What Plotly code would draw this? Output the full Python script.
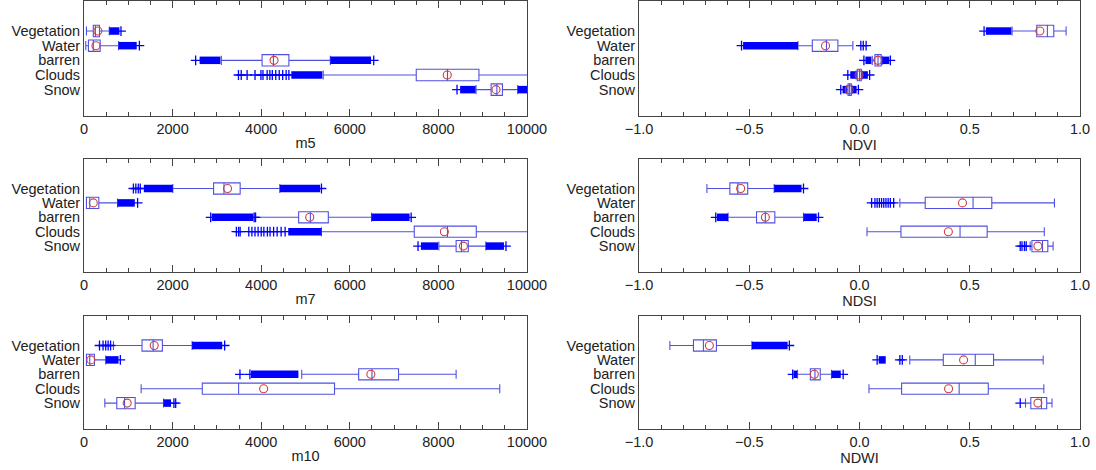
import plotly.graph_objects as go

CATEGORIES = ["Vegetation", "Water", "barren", "Clouds", "Snow"]
CAT_POS = [0, 1, 2, 3, 4]

# ---------------- m5 ----------------
M5_LO = [55, 40, 3100, 5400, 8850]
M5_Q1 = [210, 100, 4020, 7500, 9190]
M5_MED = [257, 210, 4275, 8205, 9320]
M5_Q3 = [350, 365, 4625, 8915, 9445]
M5_HI = [570, 780, 5560, 10600, 9790]
M5_MEAN = [312, 270, 4290, 8200, 9300]
M5_RUN_CAT = [0, 1, 2, 2, 3, 4, 4]
M5_RUN_START = [570, 780, 2610, 5560, 4680, 8490, 9790]
M5_RUN_END = [800, 1190, 3080, 6480, 5380, 8840, 10300]
M5_PT_CAT = [0, 1, 2, 2] + [3] * 14 + [4]
M5_PT_VAL = [835, 1250, 2520, 6540,
             3487, 3549, 3682, 3861, 3994, 4040, 4134, 4196, 4251, 4329, 4407, 4485, 4563, 4625,
             8420]

# ---------------- NDVI ----------------
NDVI_LO = [0.692, -0.279, 0.058, -0.015, -0.058]
NDVI_Q1 = [0.804, -0.214, 0.070, -0.010, -0.052]
NDVI_MED = [0.852, -0.150, 0.084, 0.000, -0.045]
NDVI_Q3 = [0.881, -0.098, 0.098, 0.008, -0.037]
NDVI_HI = [0.937, -0.030, 0.103, 0.012, -0.034]
NDVI_MEAN = [0.818, -0.154, 0.083, -0.002, -0.047]
NDVI_RUN_CAT = [0, 1, 2, 2, 3, 3, 4, 4]
NDVI_RUN_START = [0.573, -0.528, 0.027, 0.103, -0.042, 0.012, -0.077, -0.034]
NDVI_RUN_END = [0.689, -0.279, 0.054, 0.135, -0.015, 0.038, -0.058, -0.013]
NDVI_PT_CAT = [0, 1, 1, 1, 1, 2, 2, 3, 3, 4, 4]
NDVI_PT_VAL = [0.565, -0.535, 0.006, 0.017, 0.030, 0.020, 0.140, -0.053, 0.046, -0.085, -0.005]

# ---------------- m7 ----------------
M7_LO = [2005, 55, 3875, 5360, 8010]
M7_Q1 = [2925, 55, 4845, 7455, 8400]
M7_MED = [3160, 130, 5110, 8205, 8520]
M7_Q3 = [3525, 335, 5515, 8855, 8675]
M7_HI = [4420, 757, 6490, 10600, 9070]
M7_MEAN = [3240, 210, 5095, 8135, 8565]
M7_RUN_CAT = [0, 0, 1, 2, 2, 3, 4, 4]
M7_RUN_START = [1350, 4420, 757, 2885, 6490, 4610, 7605, 9070]
M7_RUN_END = [2005, 5330, 1147, 3820, 7350, 5360, 7995, 9480]
M7_PT_CAT = [0, 0, 0, 0, 0, 1, 2, 2, 2, 2] + [3] * 15 + [4, 4]
M7_PT_VAL = [1115, 1170, 1225, 1270, 5360, 1210, 2860, 3840, 3870, 7385,
             3440, 3490, 3525, 3720, 3790, 3860, 3930, 4000, 4060, 4140, 4200, 4280, 4360, 4450, 4540,
             7540, 9525]

# ---------------- NDSI ----------------
NDSI_LO = [-0.692, 0.183, -0.596, 0.034, 0.774]
NDSI_Q1 = [-0.588, 0.298, -0.467, 0.188, 0.782]
NDSI_MED = [-0.552, 0.515, -0.427, 0.456, 0.830]
NDSI_Q3 = [-0.507, 0.600, -0.384, 0.579, 0.854]
NDSI_HI = [-0.387, 0.884, -0.254, 0.838, 0.878]
NDSI_MEAN = [-0.539, 0.467, -0.427, 0.403, 0.809]
NDSI_RUN_CAT = [0, 2, 2]
NDSI_RUN_START = [-0.387, -0.647, -0.254]
NDSI_RUN_END = [-0.263, -0.596, -0.194]
NDSI_PT_CAT = [0] + [1] * 10 + [2, 2] + [4] * 4
NDSI_PT_VAL = [-0.254,
               0.055, 0.070, 0.080, 0.090, 0.100, 0.110, 0.120, 0.130, 0.140, 0.155,
               -0.652, -0.186,
               0.729, 0.737, 0.748, 0.756]

# ---------------- m10 ----------------
M10_LO = [665, 55, 4915, 1290, 470]
M10_Q1 = [1310, 55, 6200, 2670, 740]
M10_MED = [1560, 130, 6500, 3490, 915]
M10_Q3 = [1770, 235, 7100, 5655, 1155]
M10_HI = [2440, 490, 8400, 9385, 1795]
M10_MEAN = [1585, 155, 6475, 4055, 975]
M10_RUN_CAT = [0, 1, 2, 4]
M10_RUN_START = [2440, 490, 3770, 1795]
M10_RUN_END = [3120, 780, 4840, 1965]
M10_PT_CAT = [0, 0, 0, 0, 0, 0, 1, 2, 2, 4, 4]
M10_PT_VAL = [350, 430, 490, 545, 600, 3175, 820, 3520, 3745, 2030, 2070]

# ---------------- NDWI ----------------
NDWI_LO = [-0.860, 0.228, -0.281, 0.043, 0.753]
NDWI_Q1 = [-0.753, 0.380, -0.223, 0.191, 0.777]
NDWI_MED = [-0.708, 0.525, -0.202, 0.452, 0.825]
NDWI_Q3 = [-0.649, 0.608, -0.178, 0.584, 0.849]
NDWI_HI = [-0.488, 0.833, -0.127, 0.836, 0.873]
NDWI_MEAN = [-0.681, 0.472, -0.205, 0.404, 0.809]
NDWI_RUN_CAT = [0, 1, 2, 2]
NDWI_RUN_START = [-0.488, 0.087, -0.299, -0.127]
NDWI_RUN_END = [-0.326, 0.119, -0.283, -0.085]
NDWI_PT_CAT = [0, 1, 1, 1, 2, 2, 4]
NDWI_PT_VAL = [-0.318, 0.080, 0.183, 0.194, -0.303, -0.074, 0.729]

PANELS = [
    ("m5", 0, 0, M5_LO, M5_Q1, M5_MED, M5_Q3, M5_HI, M5_MEAN,
     M5_RUN_CAT, M5_RUN_START, M5_RUN_END, M5_PT_CAT, M5_PT_VAL),
    ("NDVI", 0, 1, NDVI_LO, NDVI_Q1, NDVI_MED, NDVI_Q3, NDVI_HI, NDVI_MEAN,
     NDVI_RUN_CAT, NDVI_RUN_START, NDVI_RUN_END, NDVI_PT_CAT, NDVI_PT_VAL),
    ("m7", 1, 0, M7_LO, M7_Q1, M7_MED, M7_Q3, M7_HI, M7_MEAN,
     M7_RUN_CAT, M7_RUN_START, M7_RUN_END, M7_PT_CAT, M7_PT_VAL),
    ("NDSI", 1, 1, NDSI_LO, NDSI_Q1, NDSI_MED, NDSI_Q3, NDSI_HI, NDSI_MEAN,
     NDSI_RUN_CAT, NDSI_RUN_START, NDSI_RUN_END, NDSI_PT_CAT, NDSI_PT_VAL),
    ("m10", 2, 0, M10_LO, M10_Q1, M10_MED, M10_Q3, M10_HI, M10_MEAN,
     M10_RUN_CAT, M10_RUN_START, M10_RUN_END, M10_PT_CAT, M10_PT_VAL),
    ("NDWI", 2, 1, NDWI_LO, NDWI_Q1, NDWI_MED, NDWI_Q3, NDWI_HI, NDWI_MEAN,
     NDWI_RUN_CAT, NDWI_RUN_START, NDWI_RUN_END, NDWI_PT_CAT, NDWI_PT_VAL),
]

W, H = 1096, 470
COL_PX = [(84, 527), (639, 1080)]
ROW_PX = [(1, 116), (159, 272), (316, 429)]
BOX_BLUE = "#5050e0"
OUT_BLUE = "#0000ff"
MEAN_RED = "#cc4040"
FRAME = "#444444"
FONT = "Liberation Sans, Arial, Helvetica, sans-serif"

fig = go.Figure()
layout = {}
for i, (name, r, c, lo, q1, med, q3, hi, mean, rcat, rs, re_, pcat, pval) in enumerate(PANELS):
    sfx = "" if i == 0 else str(i + 1)
    xa, ya = "x" + sfx, "y" + sfx
    fig.add_trace(go.Box(
        y=CAT_POS, q1=q1, median=med, q3=q3, lowerfence=lo, upperfence=hi,
        orientation="h", width=0.78, whiskerwidth=0.8, boxpoints=False,
        line=dict(color=BOX_BLUE, width=1.1), fillcolor="rgba(0,0,0,0)",
        xaxis=xa, yaxis=ya, showlegend=False, hoverinfo="skip"))
    # dense outlier runs
    rx, ry = [], []
    for k in range(len(rcat)):
        rx += [rs[k], re_[k], None]
        ry += [CAT_POS[rcat[k]], CAT_POS[rcat[k]], None]
    fig.add_trace(go.Scatter(x=rx, y=ry, mode="lines", line=dict(color=OUT_BLUE, width=7.5),
                             xaxis=xa, yaxis=ya, showlegend=False, hoverinfo="skip"))
    # sparse outliers
    fig.add_trace(go.Scatter(x=pval, y=[CAT_POS[k] for k in pcat], mode="markers",
                             marker=dict(symbol="cross-thin", size=7,
                                         line=dict(color=OUT_BLUE, width=1.3)),
                             xaxis=xa, yaxis=ya, showlegend=False, hoverinfo="skip"))
    # means
    fig.add_trace(go.Scatter(x=mean, y=CAT_POS, mode="markers",
                             marker=dict(symbol="circle-open", size=8, color=MEAN_RED,
                                         line=dict(width=1.1, color=MEAN_RED)),
                             xaxis=xa, yaxis=ya, showlegend=False, hoverinfo="skip"))
    x0, x1 = COL_PX[c]
    y0, y1 = ROW_PX[r]
    if c == 0:
        xr, dt, mdt = [0, 10000], 2000, 500
        tf = "d"
    else:
        xr, dt, mdt = [-1, 1], 0.5, 0.1
        tf = ".1f"
    layout["xaxis" + sfx] = dict(
        domain=[x0 / W, x1 / W], anchor=ya, range=xr, dtick=dt, tick0=xr[0],
        tickformat=tf, ticks="inside", ticklen=7, tickwidth=1, tickcolor=FRAME,
        minor=dict(dtick=mdt, tick0=xr[0], ticks="inside", ticklen=4, tickcolor=FRAME),
        showline=True, linecolor=FRAME, linewidth=1, mirror="ticks",
        showgrid=False, zeroline=False, automargin=False,
        tickfont=dict(size=14.5, color="#222", family=FONT),
        title=dict(text=name, font=dict(size=14.5, color="#222", family=FONT), standoff=1))
    layout["yaxis" + sfx] = dict(
        domain=[1 - y1 / H, 1 - y0 / H], anchor=xa, range=[5.8, -2.05],
        tickvals=CAT_POS, ticktext=CATEGORIES, ticks="",
        showline=True, linecolor=FRAME, linewidth=1, mirror=True,
        showgrid=False, zeroline=False, automargin=False,
        tickfont=dict(size=14.5, color="#222", family=FONT))

fig.update_layout(width=W, height=H,
                  margin=dict(l=0, r=0, t=0, b=0, autoexpand=False),
                  paper_bgcolor="white", plot_bgcolor="white", **layout)
fig.write_html("out.html")
